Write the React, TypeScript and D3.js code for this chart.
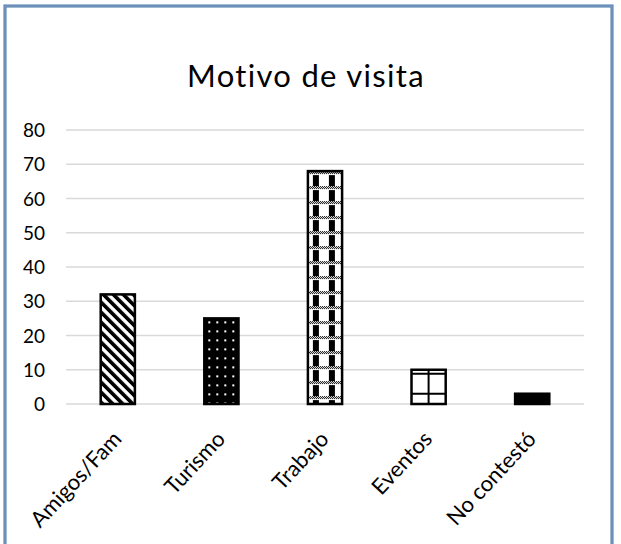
import React from "react";
import * as d3 from "d3";

const categories = ["Amigos/Fam", "Turismo", "Trabajo", "Eventos", "No contestó"];
const values = [32, 25, 68, 10, 3];
const yTicks = [0, 10, 20, 30, 40, 50, 60, 70, 80];
const fills = ["stripes", "dots", "checks", "grid", "solid"];

const W = 621;
const H = 544;
const FONT = "Lato, 'Open Sans', sans-serif";

export default function App() {
  const x = d3
    .scaleBand<string>()
    .domain(categories)
    .range([66, 584])
    .paddingInner(0.67)
    .paddingOuter(0.335);
  const y = d3.scaleLinear().domain([0, 80]).range([404, 130]);
  const bw = x.bandwidth();

  const patternFor = (kind: string, i: number, bx: number, by: number) => {
    const id = `pat-${i}`;
    if (kind === "stripes") {
      const p = 10 * Math.SQRT1_2;
      return (
        <pattern
          key={id}
          id={id}
          patternUnits="userSpaceOnUse"
          width={p}
          height={p}
          patternTransform={`translate(${bx},${by}) rotate(-45)`}
        >
          <rect width={p} height={p} fill="#fff" />
          <rect width={p * 0.52} height={p} fill="#000" />
        </pattern>
      );
    }
    if (kind === "dots") {
      return (
        <pattern
          key={id}
          id={id}
          patternUnits="userSpaceOnUse"
          width={8}
          height={9}
          patternTransform={`translate(${bx},${by})`}
        >
          <rect width={8} height={9} fill="#000" />
          <rect x={4} y={3} width={2} height={2} fill="#fff" />
        </pattern>
      );
    }
    if (kind === "checks") {
      const cells = [];
      for (let cx = 0; cx < 16; cx++) {
        for (let cy = 0; cy < 3; cy++) {
          if ((cx + cy) % 2 === 0)
            cells.push(<rect key={`${cx}-${cy}`} x={cx} y={cy} width={1} height={1} fill="#000" />);
        }
      }
      return (
        <pattern
          key={id}
          id={id}
          patternUnits="userSpaceOnUse"
          width={16}
          height={15}
          patternTransform={`translate(${bx + 2},${by})`}
        >
          <rect width={16} height={15} fill="#fff" />
          {cells}
          <rect x={3} y={4} width={6} height={11} fill="#000" />
        </pattern>
      );
    }
    if (kind === "grid") {
      return (
        <pattern
          key={id}
          id={id}
          patternUnits="userSpaceOnUse"
          width={20}
          height={20}
          patternTransform={`translate(${bx + bw / 2 - 1},${by + 3})`}
        >
          <rect width={20} height={20} fill="#fff" />
          <rect x={0} y={0} width={2} height={20} fill="#000" />
          <rect x={0} y={0} width={20} height={2} fill="#000" />
        </pattern>
      );
    }
    return null;
  };

  return (
    <svg
      width={W}
      height={H}
      style={{ position: "absolute", left: 0, top: 0, background: "#fff" }}
      fontFamily={FONT}
    >
      <defs>
        {categories.map((c, i) => patternFor(fills[i], i, x(c)!, y(values[i])))}
      </defs>

      {/* chart frame */}
      <rect x={5} y={6} width={607} height={H + 20} fill="none" stroke="#4a76a8" strokeWidth={3} />
      <rect x={5} y={6} width={607} height={H + 20} fill="none" stroke="#9fb8d6" strokeWidth={0.8} />

      <text x={306} y={87} textAnchor="middle" fontSize={31} letterSpacing={1.3} fill="#000">
        Motivo de visita
      </text>

      {/* gridlines and y labels */}
      {yTicks.map((t) => (
        <g key={t}>
          <line x1={66} x2={584} y1={y(t)} y2={y(t)} stroke="#d9d9d9" strokeWidth={1.3} />
          <text x={45} y={y(t) + 7} textAnchor="end" fontSize={19} fill="#000">
            {t}
          </text>
        </g>
      ))}

      {/* bars */}
      {categories.map((c, i) => (
        <rect
          key={c}
          x={x(c)}
          y={y(values[i])}
          width={bw}
          height={y(0) - y(values[i])}
          fill={fills[i] === "solid" ? "#000" : `url(#pat-${i})`}
          stroke="#000"
          strokeWidth={2.5}
        />
      ))}

      {/* slanted category labels */}
      {categories.map((c) => {
        const cx = x(c)! + bw / 2 + 5;
        const cy = 440;
        return (
          <text
            key={c}
            textAnchor="end"
            fontSize={22}
            fill="#000"
            transform={`translate(${cx},${cy}) rotate(-47)`}
          >
            {c}
          </text>
        );
      })}
    </svg>
  );
}
